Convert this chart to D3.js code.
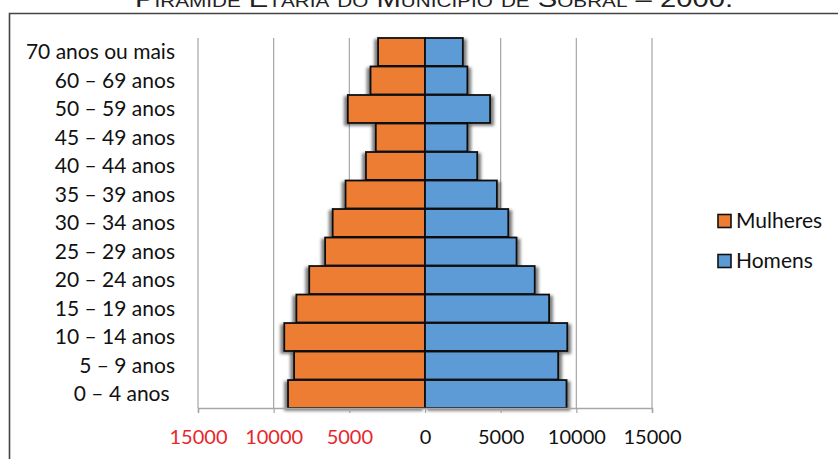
<!DOCTYPE html>
<html>
<head>
<meta charset="utf-8">
<script src="https://cdn.jsdelivr.net/npm/d3@7"></script>
<style>
  body { margin: 0; background: #fff; }
  text { font-family: Lato, "Open Sans", sans-serif; }
</style>
</head>
<body>
<div id="container"></div>
<script>
/* CONSTANTS AND GLOBALS */
const width = 838,
  height = 459,
  margin = { top: 38, bottom: 51, left: 198, right: 186 };

// age groups, top to bottom
const ageGroups = [
  "70 anos ou mais", "60 – 69 anos", "50 – 59 anos", "45 – 49 anos",
  "40 – 44 anos", "35 – 39 anos", "30 – 34 anos", "25 – 29 anos",
  "20 – 24 anos", "15 – 19 anos", "10 – 14 anos", "5 – 9 anos", "0 – 4 anos "
];
const mulheres = [3100, 3600, 5100, 3250, 3900, 5250, 6100, 6600, 7650, 8500, 9300, 8650, 9050];
const homens = [2500, 2800, 4300, 2800, 3450, 4750, 5500, 6050, 7250, 8200, 9400, 8800, 9350];
const ticks = [-15000, -10000, -5000, 0, 5000, 10000, 15000];
const seriesNames = ["Mulheres", "Homens"];
const colors = { Mulheres: "#ed7d31", Homens: "#5b9bd5" };

const svg = d3.select("#container")
  .append("svg")
  .attr("width", width)
  .attr("height", height);

// shadows (excel style)
const defs = svg.append("defs");
defs.append("filter").attr("id", "shadowR")
  .attr("x", "-20%").attr("y", "-30%").attr("width", "140%").attr("height", "160%")
  .append("feDropShadow")
  .attr("dx", 3).attr("dy", 2).attr("stdDeviation", 1.8)
  .attr("flood-color", "#000").attr("flood-opacity", 0.5);
defs.append("filter").attr("id", "shadowL")
  .attr("x", "-20%").attr("y", "-30%").attr("width", "140%").attr("height", "160%")
  .append("feDropShadow")
  .attr("dx", -3).attr("dy", 2).attr("stdDeviation", 1.8)
  .attr("flood-color", "#000").attr("flood-opacity", 0.5);

/* SCALES */
const xScale = d3.scaleLinear()
  .domain([-15000, 15000])
  .range([margin.left, width - margin.right]);

const yScale = d3.scaleBand()
  .domain(ageGroups)
  .range([margin.top, height - margin.bottom])
  .paddingInner(0.02);

// title (cut at the top, as in the source image)
svg.append("text")
  .attr("x", 434)
  .attr("y", 7)
  .attr("text-anchor", "middle")
  .style("font-family", "'Liberation Sans', Arial, sans-serif")
  .style("font-size", "24px")
  .style("font-variant", "small-caps")
  .attr("textLength", 598)
  .attr("lengthAdjust", "spacingAndGlyphs")
  .attr("fill", "#222")
  .text("Pirâmide Etária do Município de Sobral – 2000.");

// frame
svg.append("path")
  .attr("d", `M9.5,${height + 2} V13.5 H${width + 2}`)
  .attr("fill", "none")
  .attr("stroke", "#444")
  .attr("stroke-width", 1.6);

// gridlines
svg.append("g")
  .selectAll("line")
  .data(ticks.filter(d => d !== 0))
  .join("line")
  .attr("x1", d => xScale(d)).attr("x2", d => xScale(d))
  .attr("y1", margin.top).attr("y2", height - margin.bottom)
  .attr("stroke", "#a6a6a6")
  .attr("stroke-width", 1.2);

// bars
const rows = ageGroups.map((g, i) => ({ group: g, m: mulheres[i], h: homens[i] }));

svg.append("g")
  .selectAll("rect.m")
  .data(rows)
  .join("rect")
  .attr("class", "m")
  .attr("x", d => xScale(-d.m))
  .attr("y", d => yScale(d.group))
  .attr("width", d => xScale(0) - xScale(-d.m))
  .attr("height", yScale.bandwidth())
  .attr("fill", colors.Mulheres)
  .attr("stroke", "#111")
  .attr("stroke-width", 1.8)
  .attr("filter", "url(#shadowL)");

svg.append("g")
  .selectAll("rect.h")
  .data(rows)
  .join("rect")
  .attr("class", "h")
  .attr("x", xScale(0))
  .attr("y", d => yScale(d.group))
  .attr("width", d => xScale(d.h) - xScale(0))
  .attr("height", yScale.bandwidth())
  .attr("fill", colors.Homens)
  .attr("stroke", "#111")
  .attr("stroke-width", 1.8)
  .attr("filter", "url(#shadowR)");

// x axis
const xAxis = svg.append("g")
  .attr("transform", `translate(0, ${height - margin.bottom})`)
  .call(d3.axisBottom(xScale).tickValues(ticks).tickSize(5).tickFormat(d => Math.abs(d)));

xAxis.select(".domain").attr("stroke", "#a6a6a6").attr("stroke-width", 1.5);
xAxis.selectAll(".tick line").attr("stroke", "#a6a6a6").attr("stroke-width", 1.2);
xAxis.selectAll(".tick text")
  .attr("y", 22)
  .style("font-size", "20px")
  .attr("fill", d => d < 0 ? "#e8262c" : "#111");

// y labels
svg.append("g")
  .selectAll("text")
  .data(ageGroups)
  .join("text")
  .attr("x", 175)
  .attr("y", d => yScale(d) + yScale.bandwidth() / 2)
  .attr("dy", "0.35em")
  .attr("text-anchor", "end")
  .style("font-size", "21px")
  .style("white-space", "pre")
  .attr("fill", "#111")
  .text(d => d);

// legend
const legend = svg.append("g")
  .selectAll("g")
  .data(seriesNames)
  .join("g")
  .attr("transform", (d, i) => `translate(718, ${221 + i * 40})`);

legend.append("rect")
  .attr("x", 0).attr("y", -6.5)
  .attr("width", 13).attr("height", 13)
  .attr("fill", d => colors[d])
  .attr("stroke", "#111")
  .attr("stroke-width", 1.6);

legend.append("text")
  .attr("x", 18)
  .attr("dy", "0.35em")
  .style("font-size", "21px")
  .attr("fill", "#111")
  .text(d => d);
</script>
</body>
</html>
